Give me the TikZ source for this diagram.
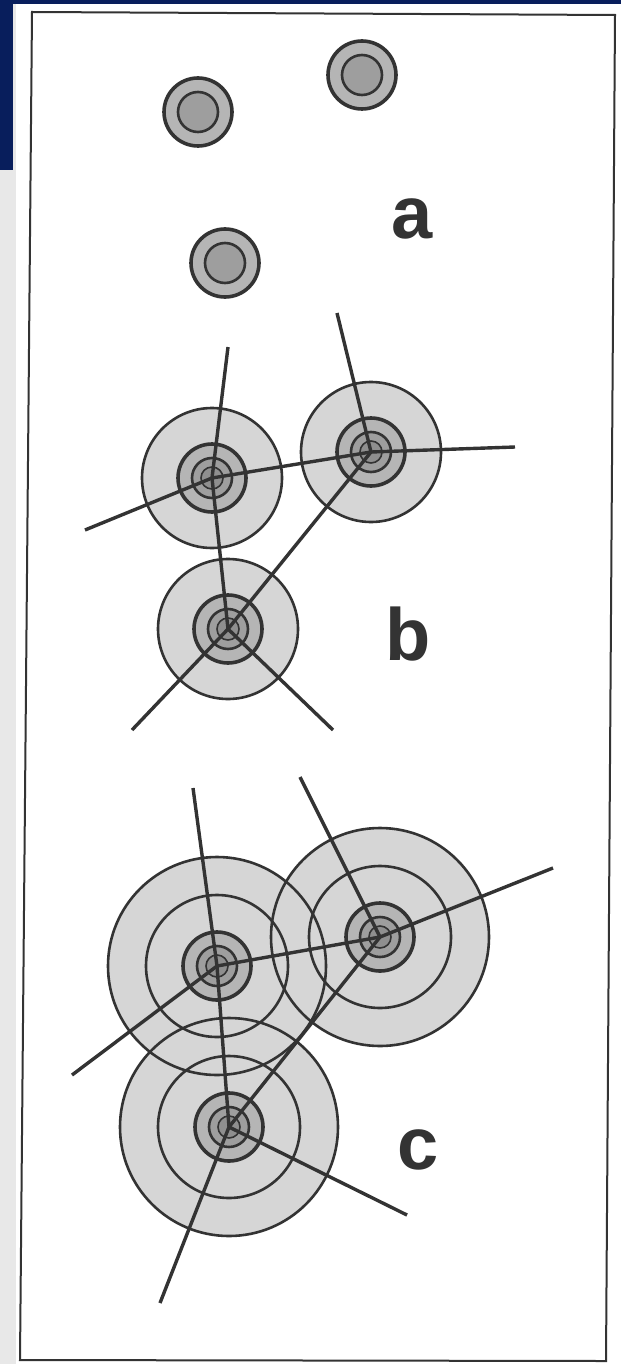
\documentclass[tikz,border=0pt]{standalone}
\usepackage{fontspec}
\setmainfont{Liberation Sans}
\definecolor{navy}{RGB}{8,30,92}
\definecolor{sidegray}{gray}{0.91}
\definecolor{ink}{gray}{0.2}
\definecolor{halofill}{gray}{0.84}
\definecolor{cellfill}{gray}{0.71}
\definecolor{nucfill}{gray}{0.62}
\definecolor{corefill}{gray}{0.56}
\begin{document}
\begin{tikzpicture}[x=0.5pt, y=-0.5pt,
    halo/.style={fill=halofill, draw=ink, line width=1.3pt},
    ring/.style={draw=ink, line width=1.3pt},
    cellbody/.style={fill=cellfill, draw=ink, line width=1.8pt},
    nucleus/.style={fill=nucfill, draw=ink, line width=1.3pt},
    core/.style={fill=corefill, draw=ink, line width=0.8pt},
    process/.style={draw=ink, line width=1.7pt},
    tag/.style={font=\fontsize{37}{37}\selectfont\bfseries, text=ink}]
    \useasboundingbox (0,0) rectangle (621,1364);
    % page edges and frame
    \fill[white] (0,0) rectangle (621,1364);
    \fill[sidegray] (0,0) rectangle (16,1364);
    \fill[navy] (0,0) rectangle (621,4);
    \fill[navy] (0,0) rectangle (13,170);
    \draw[ink, line width=1pt] (32,12) -- (615,15) -- (606,1361) -- (20,1360) -- cycle;

    % a: separate cells
    \foreach \n/\x/\y in {a1/198/112, a2/362/75, a3/225/263} {
        \coordinate (\n) at (\x,\y);
        \draw[cellbody] (\n) circle [radius=34];
        \draw[nucleus] (\n) circle [radius=20];
    }
    \node[tag] (la) at (412,219) {a};

    % b: cells with one halo
    \foreach \n/\x/\y in {b1/212/478, b2/371/452, b3/228/629} {
        \coordinate (\n) at (\x,\y);
        \draw[halo] (\n) circle [radius=70];
        \draw[cellbody] (\n) circle [radius=34];
        \draw[nucleus] (\n) circle [radius=20];
        \draw[core] (\n) circle [radius=11];
    }
    \coordinate (b1u) at (228,347);
    \coordinate (b1l) at (85,530);
    \coordinate (b2u) at (337,313);
    \coordinate (b2r) at (515,447);
    \coordinate (b3l) at (132,730);
    \coordinate (b3r) at (333,730);
    \draw[process] (b1) -- (b1u);
    \draw[process] (b1) -- (b1l);
    \draw[process] (b1) -- (b2) -- (b2r);
    \draw[process] (b1) -- (b3);
    \draw[process] (b2) -- (b2u);
    \draw[process] (b2) -- (b3);
    \draw[process] (b3) -- (b3l);
    \draw[process] (b3) -- (b3r);
    \node[tag] (lb) at (408,634) {b};

    % c: cells with two overlapping halos
    \foreach \n/\x/\y in {c1/217/966, c2/380/937, c3/229/1127} {
        \coordinate (\n) at (\x,\y);
        \fill[halofill] (\n) circle [radius=109];
    }
    \foreach \n in {c1, c2, c3} {
        \draw[ring] (\n) circle [radius=109];
        \draw[ring] (\n) circle [radius=71];
        \draw[cellbody] (\n) circle [radius=34];
        \draw[nucleus] (\n) circle [radius=20];
        \draw[core] (\n) circle [radius=11];
    }
    \coordinate (c1u) at (193,788);
    \coordinate (c1l) at (72,1075);
    \coordinate (c2u) at (300,777);
    \coordinate (c2r) at (553,868);
    \coordinate (c3l) at (160,1303);
    \coordinate (c3r) at (407,1215);
    \draw[process] (c1) -- (c1u);
    \draw[process] (c1) -- (c1l);
    \draw[process] (c1) -- (c2) -- (c2r);
    \draw[process] (c1) -- (c3);
    \draw[process] (c2) -- (c2u);
    \draw[process] (c2) -- (c3);
    \draw[process] (c3) -- (c3l);
    \draw[process] (c3) -- (c3r);
    \node[tag] (lc) at (418,1150) {c};
\end{tikzpicture}
\end{document}
